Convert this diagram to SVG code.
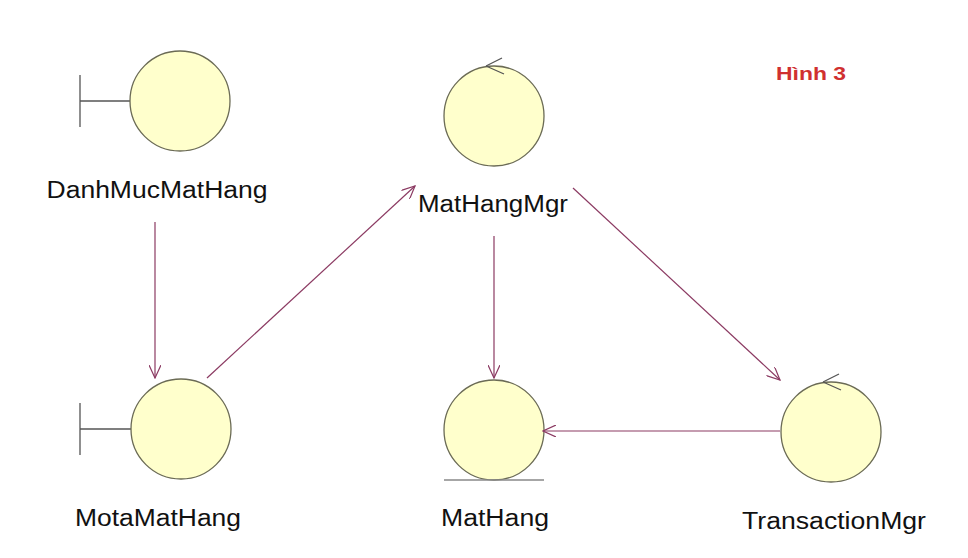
<svg xmlns="http://www.w3.org/2000/svg" width="968" height="558" viewBox="0 0 968 558">
<style>
.n{fill:#ffffcc;stroke:#6b6b55;stroke-width:1.3}
.k{stroke:#555;stroke-width:1.3;fill:none}
.t{font-family:"Liberation Sans",Arial,sans-serif;font-size:23px;fill:#111;text-anchor:middle}
.c{stroke:#8b3a62;stroke-width:1.2;fill:none;marker-end:url(#a)}
</style>
<defs><marker id="a" markerWidth="14" markerHeight="12" refX="13" refY="6" orient="auto" markerUnits="userSpaceOnUse"><path d="M0,0 L13,6 L0,12" fill="none" stroke="#8b3a62" stroke-width="1.2"/></marker></defs>
<rect width="968" height="558" fill="#fff"/>
<g id="DanhMucMatHang"><path class="k" d="M80,75 V127 M80,101 H130"/><circle class="n" cx="180" cy="101" r="50"/><text class="t" x="157" y="198" textLength="221" lengthAdjust="spacingAndGlyphs">DanhMucMatHang</text></g>
<g id="MatHangMgr"><circle class="n" cx="494" cy="116" r="50"/><path class="k" d="M486,66 L502,58 M486,66 L504,74"/><text class="t" x="493" y="212" textLength="150" lengthAdjust="spacingAndGlyphs">MatHangMgr</text></g>
<g id="MotaMatHang"><path class="k" d="M80,403 V455 M80,429 H131"/><circle class="n" cx="181" cy="429" r="50"/><text class="t" x="158" y="526" textLength="166" lengthAdjust="spacingAndGlyphs">MotaMatHang</text></g>
<g id="MatHang"><circle class="n" cx="494" cy="430" r="50"/><path d="M444,480 H544" stroke="#888" stroke-width="1.5"/><text class="t" x="495" y="526" textLength="108" lengthAdjust="spacingAndGlyphs">MatHang</text></g>
<g id="TransactionMgr"><circle class="n" cx="831" cy="432" r="50"/><path class="k" d="M823,382 L839,374 M823,382 L841,390"/><text class="t" x="834" y="529" textLength="184" lengthAdjust="spacingAndGlyphs">TransactionMgr</text></g>
<g id="connectors">
<path class="c" d="M155,222 V378"/>
<path class="c" d="M207,378 L415,186"/>
<path class="c" d="M494,236 V378"/>
<path class="c" d="M573,188 L780,380"/>
<path class="c" d="M780,431 H543"/>
</g>
<text x="811" y="80" font-family="Liberation Sans,Arial,sans-serif" font-size="19" font-weight="bold" fill="#d03030" text-anchor="middle" textLength="70" lengthAdjust="spacingAndGlyphs">Hình 3</text>
</svg>
